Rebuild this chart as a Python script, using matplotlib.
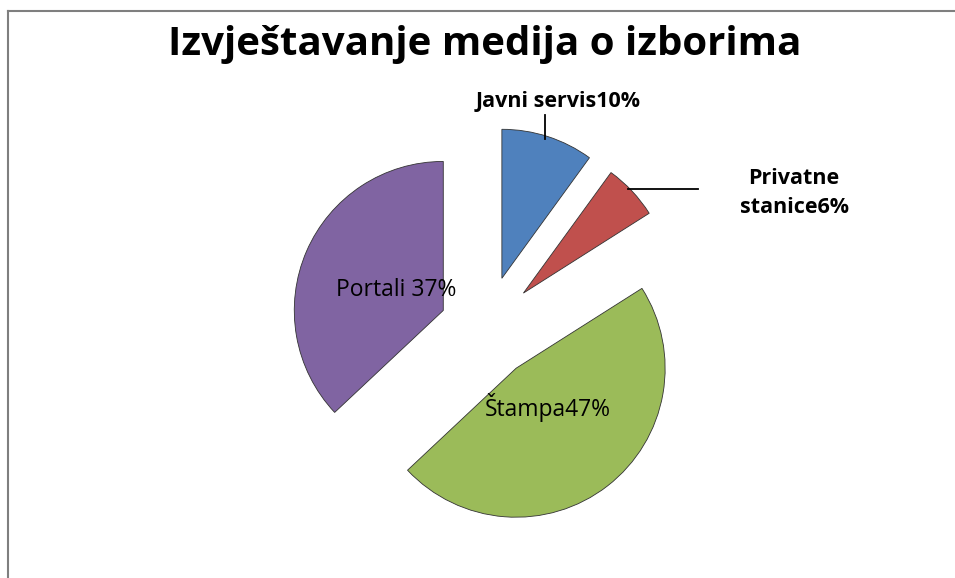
import matplotlib.pyplot as plt
from matplotlib.lines import Line2D

# data
labels = ['Javni servis', 'Privatne\nstanice', 'Štampa', 'Portali ']
shares = [10, 6, 47, 37]
colors = ['#4F81BD', '#C0504D', '#9BBB59', '#8064A2']
explode = [53, 52, 50, 46]  # pixel offsets (pie uses data units)

W, H = 955, 578
fig = plt.figure(figsize=(W / 100, H / 100), dpi=100)
ax = fig.add_axes([0, 0, 1, 1])

# frame (open to the right and bottom like the reference)
fig.add_artist(Line2D([7.5 / W, 7.5 / W], [0, 1 - 11 / H], color='#7f7f7f', lw=1.5))
fig.add_artist(Line2D([7.5 / W, 1], [1 - 11 / H, 1 - 11 / H], color='#7f7f7f', lw=1.5))

cx, cy, r = 485.5, H - 328.7, 149
wedges, _ = ax.pie(shares, colors=colors, explode=explode, startangle=90,
                   counterclock=False, center=(cx, cy), radius=r,
                   wedgeprops=dict(edgecolor='#333333', linewidth=0.6),
                   frame=True)
ax.set_xlim(0, W)
ax.set_ylim(0, H)
ax.set_aspect('equal')
ax.axis('off')

font = 'Open Sans'
txt = [f'{l}{v}%' for l, v in zip(labels, shares)]

fig.text(485 / W, 1 - 45 / H, 'Izvještavanje medija o izborima', ha='center',
         va='center', fontsize=29, fontweight='bold', family=font)

# outside labels with leader lines
ax.text(558, H - 102, txt[0], ha='center', va='center', fontsize=15.5,
        fontweight='bold', family=font)
ax.plot([545, 545], [H - 115, H - 139], color='black', lw=1.3)
ax.text(794, H - 193, txt[1], ha='center', va='center', fontsize=15.5,
        fontweight='bold', family=font, linespacing=1.45)
ax.plot([628, 698], [H - 189, H - 189], color='black', lw=1.3)

# inside labels
ax.text(396, H - 290, txt[3], ha='center', va='center', fontsize=16.5, family=font)
ax.text(548, H - 408, txt[2], ha='center', va='center', fontsize=16.5, family=font)

fig.savefig('out.png', dpi=100)
